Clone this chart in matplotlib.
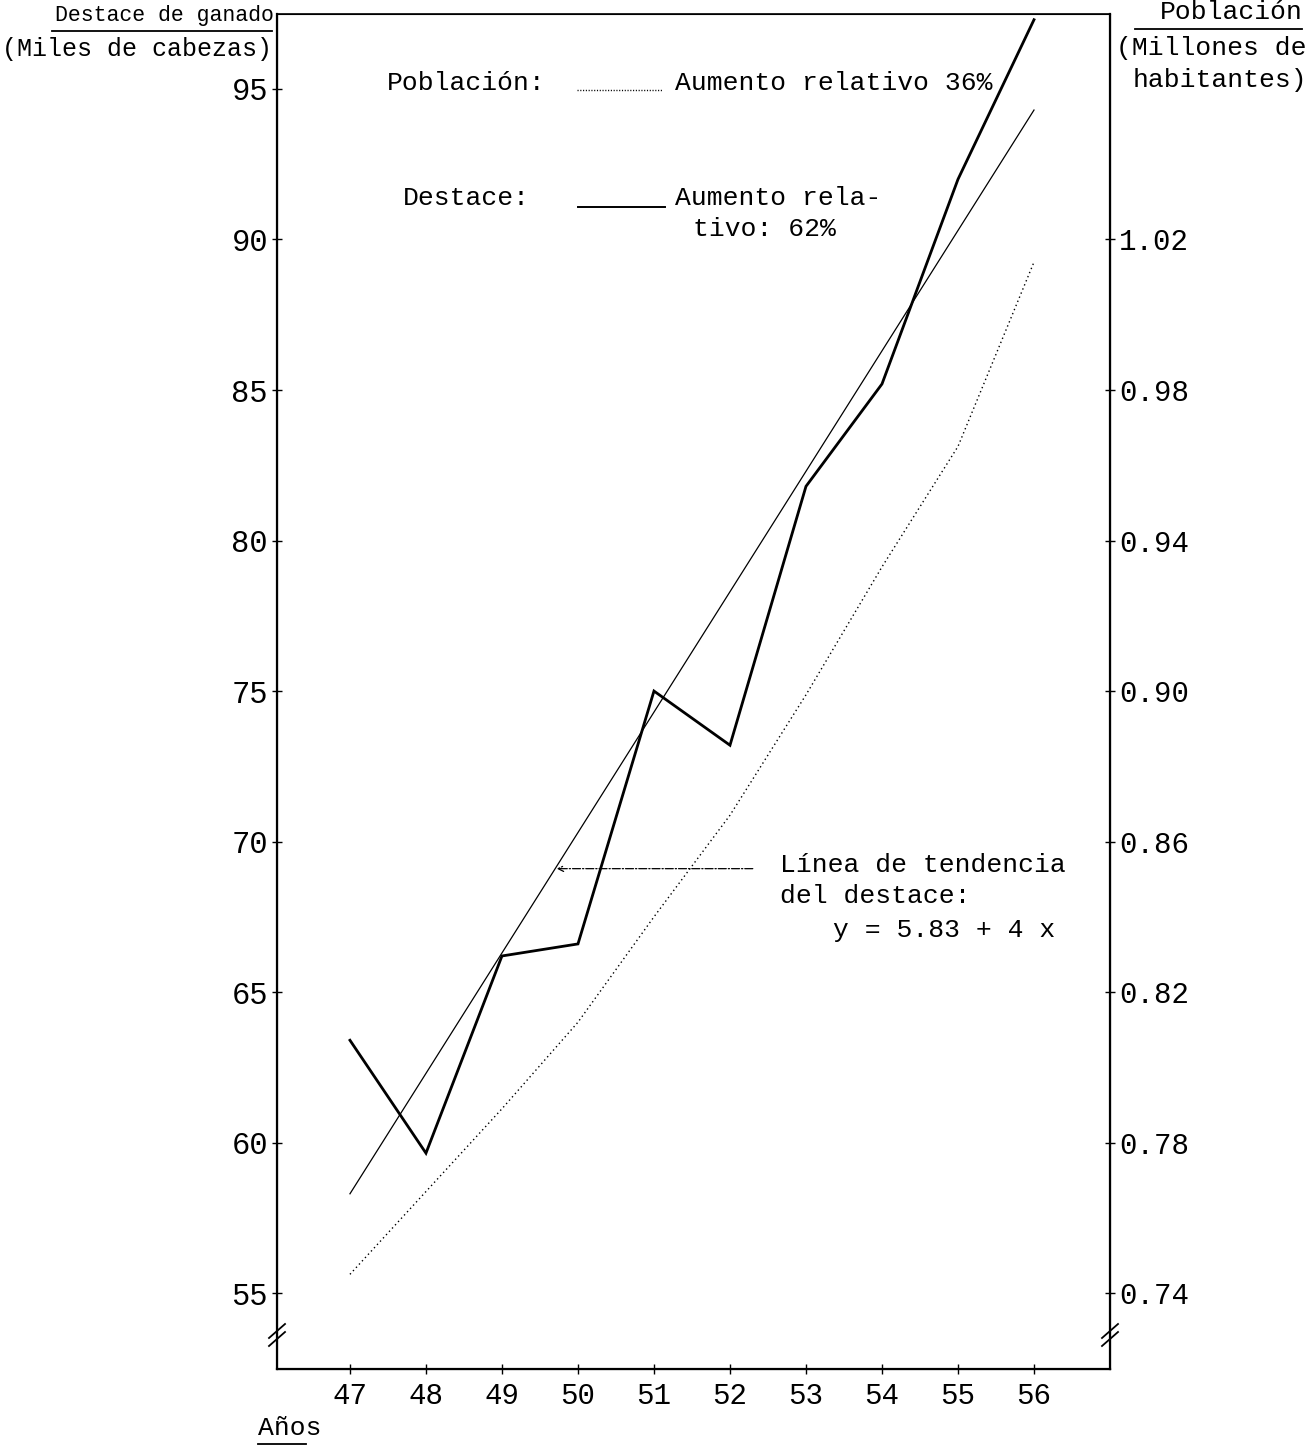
import matplotlib
matplotlib.use("Agg")
import matplotlib.pyplot as plt
from matplotlib.lines import Line2D

# ---- data ----
years = [47, 48, 49, 50, 51, 52, 53, 54, 55, 56]
destace = [63.4, 59.65, 66.2, 66.6, 75.0, 73.2, 81.8, 85.2, 92.0, 97.3]   # miles de cabezas
trend_years = [47, 56]
trend_vals = [58.3, 94.3]                                                   # linea de tendencia
poblacion = [0.745, 0.767, 0.789, 0.812, 0.840, 0.867, 0.899, 0.933, 0.965, 1.014]  # millones
left_ticks = [55, 60, 65, 70, 75, 80, 85, 90, 95]
right_ticks = [0.74, 0.78, 0.82, 0.86, 0.90, 0.94, 0.98, 1.02]
right_labels = ["0.74", "0.78", "0.82", "0.86", "0.90", "0.94", "0.98", "1.02"]

W, H = 1313, 1448
FONT = ["Liberation Mono", "DejaVu Sans Mono"]
plt.rcParams["font.family"] = FONT

fig = plt.figure(figsize=(W / 100, H / 100), dpi=100)
fig.patch.set_facecolor("white")

L, R, T, B = 277, 1110, 14, 1369
ax = fig.add_axes([L / W, 1 - B / H, (R - L) / W, (B - T) / H])
ylo, yhi = 52.48, 97.49
ax.set_xlim(46.04, 57.0)
ax.set_ylim(ylo, yhi)

ax2 = ax.twinx()
ax2.set_ylim(0.74 + (ylo - 55) * 0.008, 0.74 + (yhi - 55) * 0.008)

# series
ax.plot(years, destace, color="black", lw=2.0, solid_joinstyle="miter")
ax.plot(trend_years, trend_vals, color="black", lw=0.9)
ax2.plot(years, poblacion, color="black", lw=1.0, linestyle=(0, (1, 2.2)))

# arrow to trend line
ax.annotate("", xy=(49.72, 69.1), xytext=(52.3, 69.1),
            arrowprops=dict(arrowstyle="->", lw=0.9, linestyle="-.", color="black",
                            shrinkA=0, shrinkB=0))

# axes styling
for a in (ax, ax2):
    for s in a.spines.values():
        s.set_color("black")
ax.spines["left"].set_linewidth(1.6)
ax.spines["bottom"].set_linewidth(1.6)
ax.spines["top"].set_linewidth(1.2)
ax2.spines["right"].set_linewidth(1.6)

ax.set_xticks(years)
ax.set_xticklabels([str(y) for y in years], fontsize=21)
ax.set_yticks(left_ticks)
ax.set_yticklabels([str(v) for v in left_ticks], fontsize=22)
ax.tick_params(axis="x", direction="inout", length=7, width=1, pad=6)
ax.tick_params(axis="y", direction="inout", length=7, width=1, pad=3)
ax2.set_yticks(right_ticks)
ax2.set_yticklabels(right_labels, fontsize=21)
ax2.tick_params(axis="y", direction="inout", length=7, width=1, pad=3)


def px(x, y):
    return x / W, 1 - y / H


def ftext(x, y, s, **kw):
    fx, fy = px(x, y)
    fig.text(fx, fy, s, va="center", **kw)


def fline(x0, y0, x1, y1, **kw):
    a0, b0 = px(x0, y0)
    a1, b1 = px(x1, y1)
    fig.add_artist(Line2D([a0, a1], [b0, b1], transform=fig.transFigure, color="black", **kw))


# axis break marks
for xs in (L, R):
    fline(xs - 8, 1338, xs + 8, 1324, lw=1.3)
    fline(xs - 8, 1346, xs + 8, 1332, lw=1.3)

# axis titles
ftext(274, 15, "Destace de ganado", fontsize=15.5, ha="right")
fline(52, 31, 272, 31, lw=1.3)
ftext(2, 49, "(Miles de cabezas)", fontsize=18, ha="left")
ftext(1303, 12, "Población", fontsize=19, ha="right")
fline(1135, 29, 1302, 29, lw=1.3)
ftext(1307, 48, "(Millones de", fontsize=19, ha="right")
ftext(1307, 80, "habitantes)", fontsize=19, ha="right")
ftext(258, 1428, "Años", fontsize=19, ha="left")
fline(258, 1444, 306, 1444, lw=1.3)

# legend block
ftext(387, 83, "Población:", fontsize=19, ha="left")
fline(577, 90, 663, 90, lw=1.0, linestyle=(0, (0.8, 1.2)))
ftext(675, 83, "Aumento relativo 36%", fontsize=19, ha="left")
ftext(403, 198, "Destace:", fontsize=19, ha="left")
fline(578, 207, 665, 207, lw=1.4)
ftext(675, 198, "Aumento rela-", fontsize=19, ha="left")
ftext(693, 229, "tivo: 62%", fontsize=19, ha="left")

# trend annotation text
ftext(780, 865, "Línea de tendencia", fontsize=19, ha="left")
ftext(780, 896, "del destace:", fontsize=19, ha="left")
ftext(833, 930, "y = 5.83 + 4 x", fontsize=19, ha="left")

fig.savefig("out.png", dpi=100, facecolor="white")
